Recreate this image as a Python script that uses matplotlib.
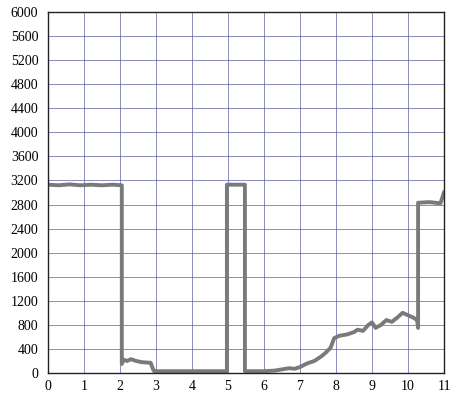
import matplotlib.pyplot as plt

# readings taken off the reference curve
x = [0.0, 0.3, 0.6, 0.9, 1.2, 1.5, 1.8, 2.05, 2.05, 2.1, 2.2, 2.3, 2.45, 2.6, 2.85, 2.92, 2.95,
     4.97, 4.97, 5.47, 5.47, 6.0, 6.3, 6.5, 6.7, 6.85, 7.0, 7.2, 7.4, 7.6, 7.7, 7.85, 7.95,
     8.1, 8.3, 8.5, 8.6, 8.75, 8.9, 9.0, 9.1, 9.25, 9.4, 9.55, 9.7, 9.85, 10.0, 10.15, 10.25,
     10.28, 10.28, 10.6, 10.9, 11.0]
y = [3130, 3120, 3135, 3120, 3130, 3120, 3130, 3120, 150, 220, 200, 230, 200, 180, 170, 60, 30,
     30, 3130, 3130, 30, 30, 40, 60, 80, 70, 100, 160, 200, 280, 330, 420, 580,
     620, 640, 680, 720, 700, 800, 840, 750, 800, 880, 850, 920, 1000, 960, 920, 880,
     750, 2830, 2840, 2820, 3000]

xticks = list(range(0, 12))
yticks = list(range(0, 6001, 400))

fig = plt.figure(figsize=(4.55, 4.0), dpi=100)
ax = fig.add_axes([48 / 455, 27 / 400, 396 / 455, 361 / 400])
ax.plot(x, y, color='#7a7a7a', linewidth=2.8, solid_joinstyle='round')
ax.set_xlim(0, 11)
ax.set_ylim(0, 6000)
ax.set_xticks(xticks)
ax.set_yticks(yticks)
ax.grid(True, color='#4a4e96', linewidth=0.6, alpha=0.75)
ax.tick_params(length=0, labelsize=10)
ax.tick_params(axis='x', pad=5)
ax.tick_params(axis='y', pad=7)
for lab in ax.get_xticklabels() + ax.get_yticklabels():
    lab.set_family('Liberation Serif')
for s in ax.spines.values():
    s.set_color('#222222')
    s.set_linewidth(1.0)
fig.savefig('out.png', dpi=100)
